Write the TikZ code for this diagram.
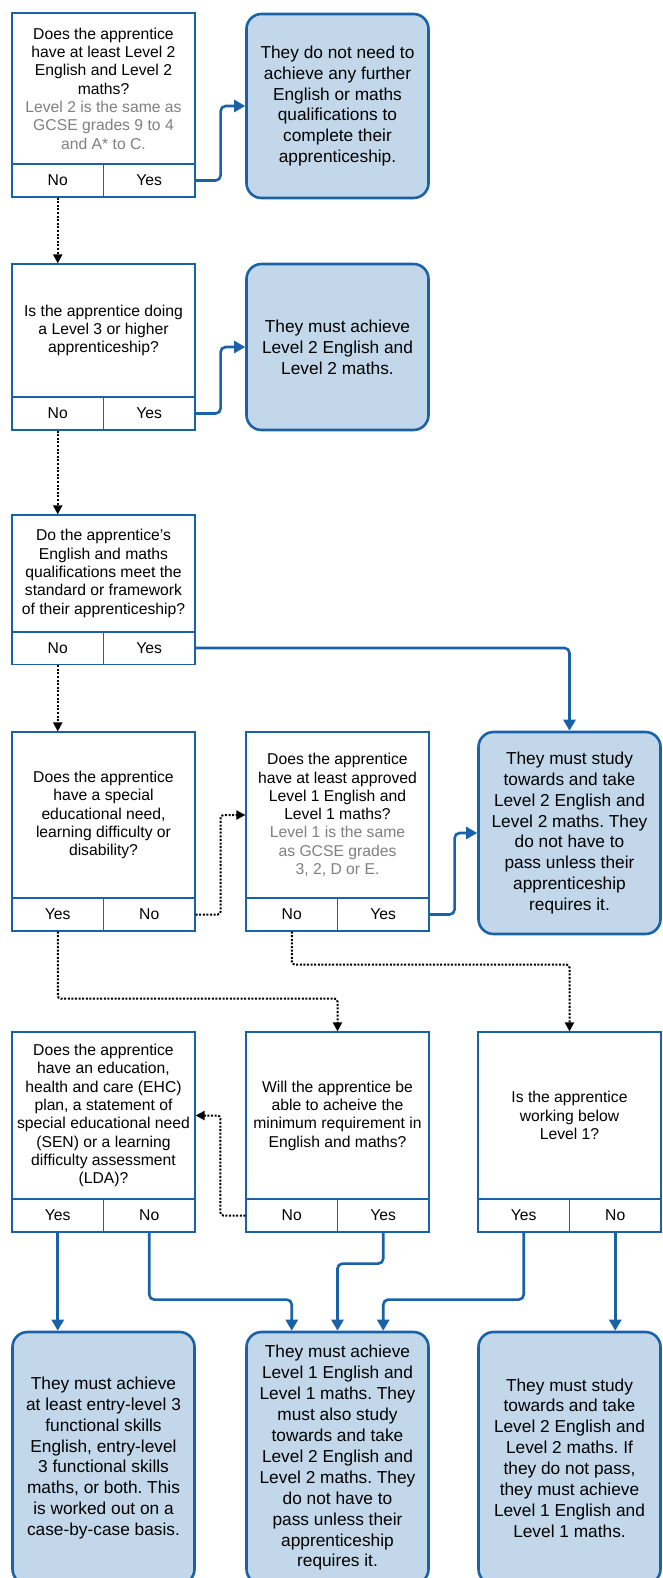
\documentclass[tikz,border=0pt]{standalone}
\usepackage{fontspec}
\setmainfont{Liberation Sans}
\frenchspacing
\usetikzlibrary{arrows.meta}
\definecolor{lineblue}{HTML}{1A62A8}
\definecolor{fillblue}{HTML}{C2D8EA}
\definecolor{notegray}{HTML}{808080}
\tikzset{
  question/.style={draw=lineblue, line width=1.2pt, fill=white, minimum width=183pt, inner sep=0pt, align=center, font=\fontsize{15.7}{18.3}\selectfont},
  answer/.style={draw=lineblue, line width=1.2pt, minimum width=91.5pt, minimum height=33pt, inner sep=0pt, font=\fontsize{15.7}{18.3}\selectfont},
  result/.style={draw=lineblue, line width=2.6pt, fill=fillblue, rounded corners=15pt, minimum width=182pt, inner sep=0pt, align=center, font=\fontsize{17.3}{20.9}\selectfont},
  yesline/.style={draw=lineblue, line width=2.6pt, rounded corners=5pt, -{Triangle[length=11pt,width=12pt]}},
  noline/.style={draw=black, line width=2pt, dash pattern=on 2pt off 1.6pt, rounded corners=3pt, -{Triangle[length=9pt,width=9pt]}}
}
\begin{document}
\begin{tikzpicture}[x=1pt, y=-1pt]
        \useasboundingbox (0,0) rectangle (662,1578);

        % row 1
        \node[question, minimum height=151pt] (q1) at (103.5,88.5) {Does the apprentice\\have at least Level 2\\English and Level 2\\maths?\\\textcolor{notegray}{Level 2 is the same as}\\\textcolor{notegray}{GCSE grades 9 to 4}\\\textcolor{notegray}{and A* to C.}};
        \node[answer] (q1no) at (57.75,180.5) {No};
        \node[answer] (q1yes) at (149.25,180.5) {Yes};
        \node[result, minimum height=184pt] (r1) at (337.5,106) {They do not need to\\achieve any further\\English or maths\\qualifications to\\complete their\\apprenticeship.};

        % row 2
        \node[question, minimum height=133pt] (q2) at (103.5,330.5) {Is the apprentice doing\\a Level 3 or higher\\apprenticeship?};
        \node[answer] (q2no) at (57.75,413.5) {No};
        \node[answer] (q2yes) at (149.25,413.5) {Yes};
        \node[result, minimum height=166pt] (r2) at (337.5,347) {They must achieve\\Level 2 English and\\Level 2 maths.};

        % row 3
        \node[question, minimum height=117pt] (q3) at (103.5,573.5) {Do the apprentice’s\\English and maths\\qualifications meet the\\standard or framework\\of their apprenticeship?};
        \node[answer] (q3no) at (57.75,648) {No};
        \node[answer] (q3yes) at (149.25,648) {Yes};

        % row 4
        \node[question, minimum height=166pt] (q4) at (103.5,815) {Does the apprentice\\have a special\\educational need,\\learning difficulty or\\disability?};
        \node[answer] (q4yes) at (57.75,914.5) {Yes};
        \node[answer] (q4no) at (149.25,914.5) {No};
        \node[question, minimum height=166pt] (q5) at (337.5,815) {Does the apprentice\\have at least approved\\Level 1 English and\\Level 1 maths?\\\textcolor{notegray}{Level 1 is the same}\\\textcolor{notegray}{as GCSE grades}\\\textcolor{notegray}{3, 2, D or E.}};
        \node[answer] (q5no) at (291.75,914.5) {No};
        \node[answer] (q5yes) at (383.25,914.5) {Yes};
        \node[result, minimum height=202pt] (r3) at (569.5,833) {They must study\\towards and take\\Level 2 English and\\Level 2 maths. They\\do not have to\\pass unless their\\apprenticeship\\requires it.};

        % row 5
        \node[question, minimum height=167pt] (q6) at (103.5,1115.5) {Does the apprentice\\have an education,\\health and care (EHC)\\plan, a statement of\\special educational need\\(SEN) or a learning\\difficulty assessment\\(LDA)?};
        \node[answer] (q6yes) at (57.75,1215.5) {Yes};
        \node[answer] (q6no) at (149.25,1215.5) {No};
        \node[question, minimum height=167pt] (q7) at (337.5,1115.5) {Will the apprentice be\\able to acheive the\\minimum requirement in\\English and maths?};
        \node[answer] (q7no) at (291.75,1215.5) {No};
        \node[answer] (q7yes) at (383.25,1215.5) {Yes};
        \node[question, minimum height=167pt] (q8) at (569.5,1115.5) {Is the apprentice\\working below\\Level 1?};
        \node[answer] (q8yes) at (523.75,1215.5) {Yes};
        \node[answer] (q8no) at (615.25,1215.5) {No};

        % row 6
        \node[result, minimum height=252pt] (r4) at (103.5,1458) {They must achieve\\at least entry-level 3\\functional skills\\English, entry-level\\3 functional skills\\maths, or both. This\\is worked out on a\\case-by-case basis.};
        \node[result, minimum height=252pt] (r5) at (337.5,1458) {They must achieve\\Level 1 English and\\Level 1 maths. They\\must also study\\towards and take\\Level 2 English and\\Level 2 maths. They\\do not have to\\pass unless their\\apprenticeship\\requires it.};
        \node[result, minimum height=252pt] (r6) at (569.5,1458) {They must study\\towards and take\\Level 2 English and\\Level 2 maths. If\\they do not pass,\\they must achieve\\Level 1 English and\\Level 1 maths.};

        % yes answers
        \draw[yesline] (q1yes.east) -- ++(25,0) |- (r1.west);
        \draw[yesline] (q2yes.east) -- ++(25,0) |- (r2.west);
        \draw[yesline] (q3yes.east) -| (r3.north);
        \draw[yesline] (q5yes.east) -- ++(25,0) |- (r3.west);
        \draw[yesline] (q6yes.south) -- (q6yes.south |- r4.north);
        \draw[yesline] (q6no.south) -- ++(0,67) -| (q7no |- r5.north);
        \draw[yesline] (q7yes.south) -- ++(0,31) -| (r5.north);
        \draw[yesline] (q8yes.south) -- ++(0,67) -| (q7yes |- r5.north);
        \draw[yesline] (q8no.south) -- (q8no.south |- r6.north);

        % no answers
        \draw[noline] (q1no.south) -- (q1no.south |- q2.north);
        \draw[noline] (q2no.south) -- (q2no.south |- q3.north);
        \draw[noline] (q3no.south) -- (q3no.south |- q4.north);
        \draw[noline] (q4no.east) -- ++(25,0) |- (q5.west);
        \draw[noline] (q4yes.south) -- ++(0,67) -| (q7.north);
        \draw[noline] (q5no.south) -- ++(0,33) -| (q8.north);
        \draw[noline] (q7no.west) -- ++(-25,0) |- (q6.east);
      \end{tikzpicture}
\end{document}
